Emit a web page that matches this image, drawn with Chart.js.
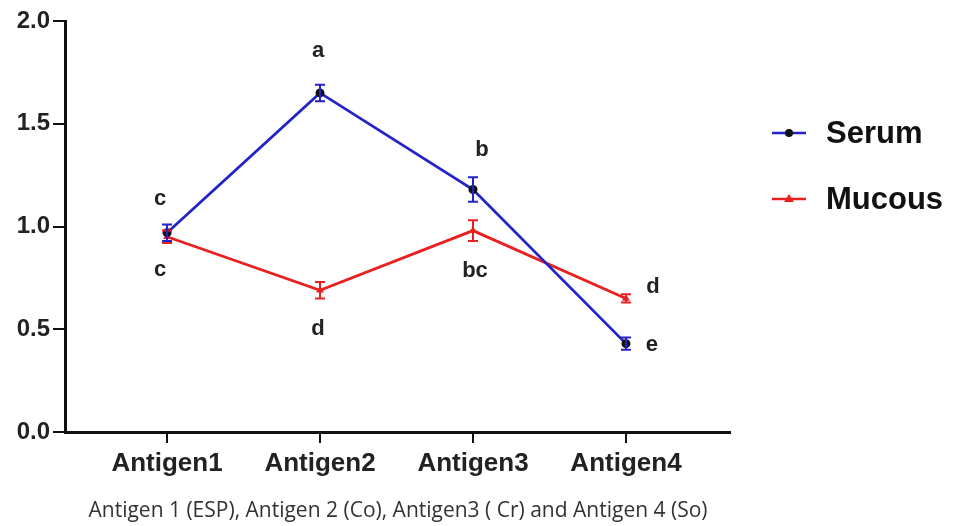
<!DOCTYPE html>
<html>
<head>
<meta charset="utf-8">
<script src="https://cdn.jsdelivr.net/npm/chart.js@4.4.0/dist/chart.umd.min.js"></script>
<style>
  html, body { margin: 0; padding: 0; background: #fff; }
  #wrap { width: 954px; height: 526px; }
</style>
</head>
<body>
<div id="wrap"><canvas id="chart" width="954" height="526"></canvas></div>
<script>
// data
const categories = ['Antigen1', 'Antigen2', 'Antigen3', 'Antigen4'];
const serum = [0.97, 1.65, 1.18, 0.43];
const serumErr = [0.04, 0.04, 0.06, 0.03];
const mucous = [0.95, 0.69, 0.98, 0.65];
const mucousErr = [0.03, 0.04, 0.05, 0.02];
const serumLetters = ['c', 'a', 'b', 'e'];
const mucousLetters = ['c', 'd', 'bc', 'd'];
const yTicks = [0, 0.5, 1.0, 1.5, 2.0];
const caption = 'Antigen 1 (ESP), Antigen 2 (Co), Antigen3 ( Cr) and Antigen 4 (So)';

const BLUE = '#2323c8';
const RED = '#e82020';
const FONT = '"Liberation Sans", Arial, sans-serif';

// letter offsets (px) from each point
const serumOffsets = [[-7, -34], [-2, -42], [9, -40], [26, 1]];
const mucousOffsets = [[-7, 33], [-2, 39], [2, 40], [27, -11]];

const toPts = arr => arr.map((v, i) => ({ x: i + 1, y: v }));

// error bars + letters + legend + caption
const extras = {
  id: 'extras',
  afterDatasetsDraw(chart) {
    const ctx = chart.ctx;
    const xs = chart.scales.x, ys = chart.scales.y;
    const bars = (vals, errs, color) => {
      ctx.save();
      ctx.strokeStyle = color;
      ctx.lineWidth = 2;
      vals.forEach((v, i) => {
        const px = xs.getPixelForValue(i + 1);
        const top = ys.getPixelForValue(v + errs[i]);
        const bot = ys.getPixelForValue(v - errs[i]);
        ctx.beginPath();
        ctx.moveTo(px, top); ctx.lineTo(px, bot);
        ctx.moveTo(px - 5, top); ctx.lineTo(px + 5, top);
        ctx.moveTo(px - 5, bot); ctx.lineTo(px + 5, bot);
        ctx.stroke();
      });
      ctx.restore();
    };
    bars(mucous, mucousErr, RED);
    bars(serum, serumErr, BLUE);

    const letters = (vals, labs, offs) => {
      ctx.save();
      ctx.font = 'bold 22px ' + FONT;
      ctx.fillStyle = '#222';
      ctx.textAlign = 'center';
      ctx.textBaseline = 'middle';
      vals.forEach((v, i) => {
        const px = xs.getPixelForValue(i + 1);
        const py = ys.getPixelForValue(v);
        ctx.fillText(labs[i], px + offs[i][0], py + offs[i][1]);
      });
      ctx.restore();
    };
    letters(serum, serumLetters, serumOffsets);
    letters(mucous, mucousLetters, mucousOffsets);

    // legend
    const legendRow = (y, color, label, style) => {
      ctx.save();
      ctx.strokeStyle = color;
      ctx.lineWidth = 2.5;
      ctx.beginPath();
      ctx.moveTo(772, y); ctx.lineTo(806, y);
      ctx.stroke();
      if (style === 'circle') {
        ctx.fillStyle = '#111';
        ctx.beginPath();
        ctx.arc(789, y, 4, 0, Math.PI * 2);
        ctx.fill();
      } else {
        ctx.fillStyle = color;
        ctx.beginPath();
        ctx.moveTo(789, y - 5); ctx.lineTo(794, y + 3); ctx.lineTo(784, y + 3);
        ctx.closePath();
        ctx.fill();
      }
      ctx.font = 'bold 31px ' + FONT;
      ctx.fillStyle = '#111';
      ctx.textAlign = 'left';
      ctx.textBaseline = 'middle';
      ctx.fillText(label, 826, y + 1);
      ctx.restore();
    };
    legendRow(133, BLUE, 'Serum', 'circle');
    legendRow(199, RED, 'Mucous', 'triangle');

    ctx.save();
    ctx.font = '21px "Open Sans", sans-serif';
    ctx.fillStyle = '#333';
    ctx.textAlign = 'center';
    ctx.textBaseline = 'middle';
    ctx.fillText(caption, 398, 511);
    ctx.restore();
  }
};

new Chart(document.getElementById('chart').getContext('2d'), {
  type: 'line',
  data: {
    datasets: [
      {
        label: 'Serum',
        data: toPts(serum),
        borderColor: BLUE,
        backgroundColor: '#111',
        borderWidth: 2.8,
        pointRadius: 4.5,
        pointStyle: 'circle',
        pointBorderWidth: 0,
        pointBackgroundColor: '#111',
        tension: 0
      },
      {
        label: 'Mucous',
        data: toPts(mucous),
        borderColor: RED,
        backgroundColor: RED,
        borderWidth: 2.8,
        pointRadius: 4.5,
        pointStyle: 'triangle',
        pointBorderWidth: 0,
        pointBackgroundColor: RED,
        tension: 0
      }
    ]
  },
  options: {
    responsive: false,
    animation: false,
    events: [],
    layout: { padding: { left: 0, top: 21, right: 224, bottom: 0 } },
    plugins: { legend: { display: false }, tooltip: { enabled: false } },
    scales: {
      x: {
        type: 'linear',
        min: 0.333,
        max: 4.68,
        afterBuildTicks(scale) { scale.ticks = [1, 2, 3, 4].map(v => ({ value: v })); },
        afterFit(scale) { scale.height = 94; },
        grid: { drawOnChartArea: false, drawTicks: true, tickLength: 11, color: '#111', lineWidth: 2 },
        border: { display: true, color: '#111', width: 3 },
        ticks: {
          autoSkip: false,
          maxRotation: 0,
          padding: 5,
          color: '#222',
          font: { family: FONT, size: 26, weight: 'bold' },
          callback: v => categories[v - 1]
        }
      },
      y: {
        min: 0,
        max: 2,
        afterBuildTicks(scale) { scale.ticks = yTicks.map(v => ({ value: v })); },
        afterFit(scale) { scale.width = 65; },
        grid: { drawOnChartArea: false, drawTicks: true, tickLength: 12, color: '#111', lineWidth: 2 },
        border: { display: true, color: '#111', width: 3 },
        ticks: {
          padding: 3,
          color: '#222',
          font: { family: FONT, size: 24, weight: 'bold' },
          callback: v => v.toFixed(1)
        }
      }
    }
  },
  plugins: [extras]
});
</script>
</body>
</html>
